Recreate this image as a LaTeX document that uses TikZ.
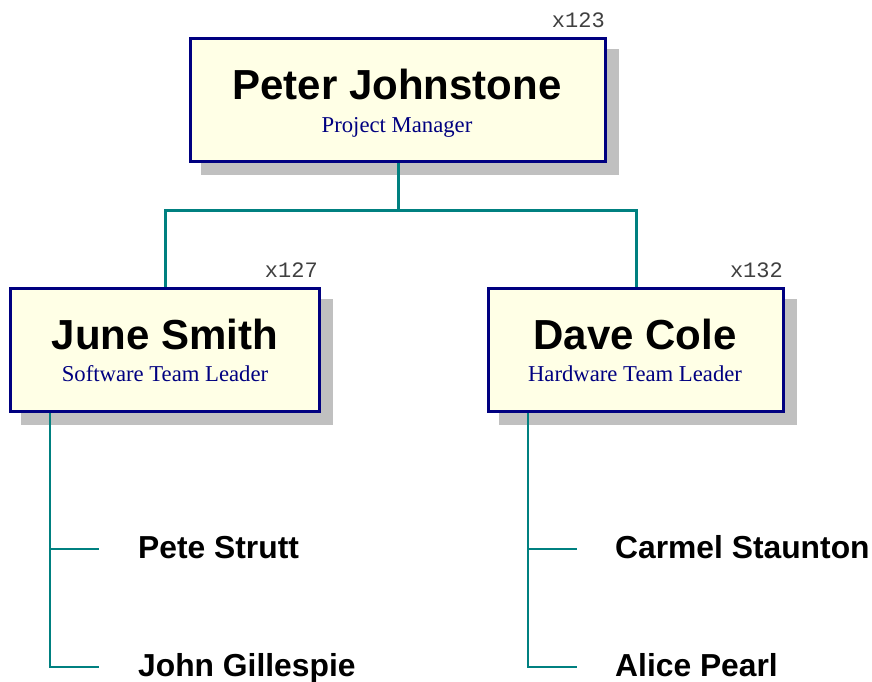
\documentclass[tikz,border=0pt]{standalone}
\usepackage{fontspec}
\usetikzlibrary{shadows}
\newfontfamily\namefont{Liberation Sans}
\newfontfamily\titlefont{Liberation Serif}
\newfontfamily\idfont{Liberation Mono}
\definecolor{boxfill}{RGB}{255,255,230}
\definecolor{boxline}{RGB}{0,0,128}
\definecolor{titlecol}{RGB}{0,0,128}
\definecolor{tealline}{RGB}{0,128,128}
\definecolor{shadowgray}{RGB}{192,192,192}
\definecolor{idgray}{RGB}{64,64,64}
\tikzset{
  person/.style={draw=boxline, fill=boxfill, line width=3pt, minimum height=123pt, inner sep=0pt,
    drop shadow={shadow xshift=12pt, shadow yshift=-12pt, fill=shadowgray, draw=shadowgray, line width=3pt, opacity=1}},
  bigname/.style={anchor=base, inner sep=0pt, font=\namefont\bfseries\fontsize{42}{48}\selectfont},
  role/.style={anchor=base, inner sep=0pt, text=titlecol, font=\titlefont\fontsize{22.7}{26}\selectfont},
  idtag/.style={anchor=base east, inner sep=0pt, text=idgray, font=\idfont\fontsize{22}{26}\selectfont},
  staff/.style={anchor=base west, inner sep=0pt, font=\namefont\bfseries\fontsize{31.8}{36}\selectfont},
  mainlink/.style={draw=tealline, line width=3pt},
  sublink/.style={draw=tealline, line width=2pt},
}
\begin{document}
\begin{tikzpicture}[x=1pt, y=-1pt]
\useasboundingbox (0,0) rectangle (872,681);
% boxes
\node[person, minimum width=415pt] (pj) at (398,100) {};
\node[person, minimum width=309pt] (js) at (165,350) {};
\node[person, minimum width=295pt] (dc) at (636,350) {};
% texts in boxes
\node[bigname] (pjn) at (397,99) {Peter Johnstone};
\node[role] (pjr) at (397,132) {Project Manager};
\node[bigname] (jsn) at (165,349) {June Smith};
\node[role] (jsr) at (165,381) {Software Team Leader};
\node[bigname] (dcn) at (635,349) {Dave Cole};
\node[role] (dcr) at (635,381) {Hardware Team Leader};
% ids
\node[idtag] (pjid) at (605,27) {x123};
\node[idtag] (jsid) at (318,277) {x127};
\node[idtag] (dcid) at (783,277) {x132};
% main connectors
\coordinate (bus) at (398,210);
\draw[mainlink] (pj.south) -- (bus);
\draw[mainlink] (bus) -| (js.north);
\draw[mainlink] (bus) -| (dc.north);
% staff
\node[staff] (ps) at (138,558) {Pete Strutt};
\node[staff] (jg) at (138,676) {John Gillespie};
\node[staff] (cs) at (615,558) {Carmel Staunton};
\node[staff] (ap) at (615,676) {Alice Pearl};
\coordinate (jtop) at ([xshift=40.5pt]js.south west);
\coordinate (j1) at (99,549);
\coordinate (j2) at (99,667);
\draw[sublink] (jtop) |- (j2);
\draw[sublink] (j1 -| jtop) -- (j1);
\coordinate (dtop) at ([xshift=40.5pt]dc.south west);
\coordinate (d1) at (577,549);
\coordinate (d2) at (577,667);
\draw[sublink] (dtop) |- (d2);
\draw[sublink] (d1 -| dtop) -- (d1);
\end{tikzpicture}
\end{document}
